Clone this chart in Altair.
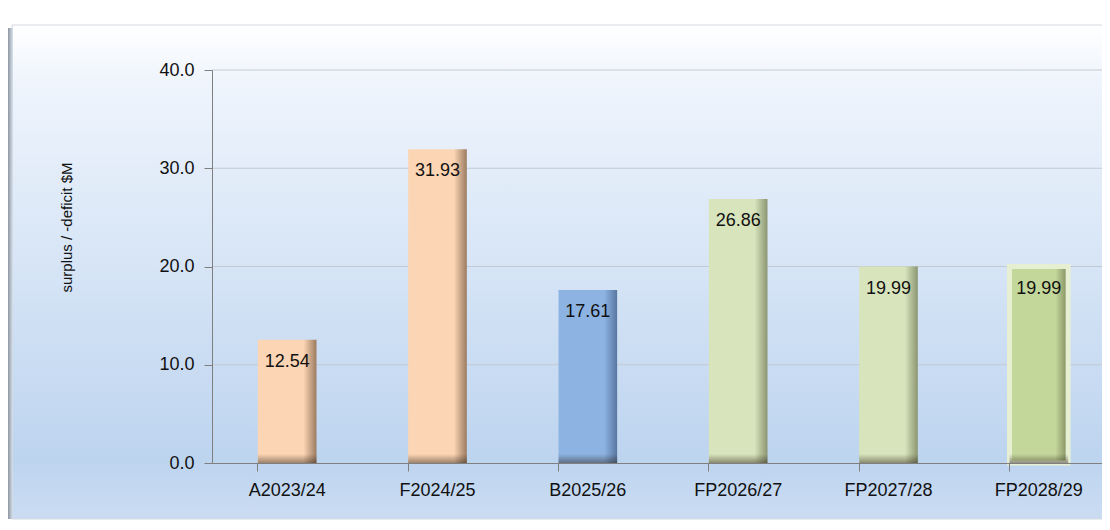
import altair as alt
import pandas as pd

categories = ["A2023/24", "F2024/25", "B2025/26", "FP2026/27", "FP2027/28", "FP2028/29"]
values = [12.54, 31.93, 17.61, 26.86, 19.99, 19.99]
groups = ["peach", "peach", "blue", "green", "green", "green2"]
y_ticks = [0, 10, 20, 30, 40]
grid_vals = [10, 20, 30, 40]

df = pd.DataFrame({"cat": categories, "val": values, "grp": groups})
grid_df = pd.DataFrame({"t": grid_vals})
bg_df = pd.DataFrame({"a": [0]})

FONT = "Liberation Sans"
W, H = 890, 393
PX_PER_UNIT = H / 40.0

def hgrad(base, shade):
    return alt.Gradient(
        gradient="linear", x1=0, x2=1, y1=0, y2=0,
        stops=[alt.GradientStop(color=base, offset=0),
               alt.GradientStop(color=base, offset=0.78),
               alt.GradientStop(color=shade, offset=1)],
    )

palette = {
    "peach": ("#fcd5b4", "#9b7b60", None),
    "blue": ("#8db3e2", "#5876a0", None),
    "green": ("#d8e4bc", "#8b9671", None),
    "green2": ("#c4d79b", "#7e8a5e", "#e7efd3"),
}

x_enc = alt.X(
    "cat:N", sort=categories, title=None,
    scale=alt.Scale(range=[0, 902], paddingInner=0.61, paddingOuter=0.305),
    axis=alt.Axis(labelAngle=0, bandPosition=0, labelFontSize=18, labelFont=FONT,
                  labelColor="#111111", tickSize=8, labelPadding=10,
                  domainColor="#7f7f7f", tickColor="#7f7f7f", grid=False, zindex=2),
)
y_enc = alt.Y(
    "val:Q", title="surplus / -deficit $M",
    scale=alt.Scale(domain=[0, 40], nice=False),
    axis=alt.Axis(values=y_ticks, format=".1f", labelFontSize=18, labelFont=FONT,
                  labelColor="#111111", tickSize=8, labelPadding=10, grid=False,
                  domainColor="#7f7f7f", tickColor="#7f7f7f", zindex=2,
                  titleFont=FONT, titleFontSize=15, titleFontWeight="normal",
                  titleColor="#111111", titleAngle=270, titleX=-146, titleY=157,
                  titleAlign="center", titleBaseline="middle"),
)

bg = alt.Chart(bg_df).mark_rect(
    fill=alt.Gradient(
        gradient="linear", x1=0, x2=0, y1=0, y2=1,
        stops=[alt.GradientStop(color="#ffffff", offset=0),
               alt.GradientStop(color="#eef4fc", offset=0.12),
               alt.GradientStop(color="#bdd4ef", offset=0.88),
               alt.GradientStop(color="#cbdcf2", offset=1)],
    ),
    stroke="#d4d9df", strokeWidth=1,
).encode(x=alt.value(-200), x2=alt.value(893), y=alt.value(-45), y2=alt.value(449))

shadow = alt.Chart(bg_df).mark_rect(
    fill=alt.Gradient(
        gradient="linear", x1=0, x2=1, y1=0, y2=0,
        stops=[alt.GradientStop(color="#8d96a1", offset=0),
               alt.GradientStop(color="#d9e3ee", offset=1)],
    ),
).encode(x=alt.value(-204), x2=alt.value(-199), y=alt.value(-42), y2=alt.value(449))

grid = alt.Chart(grid_df).mark_rule(color="#c3c9d1", strokeWidth=1).encode(
    y=alt.Y("t:Q", scale=alt.Scale(domain=[0, 40], nice=False))
)

layers = [bg, shadow, grid]
for g, (base, shade, stroke) in palette.items():
    kw = {}
    if stroke:
        kw = {"stroke": stroke, "strokeWidth": 5}
    layers.append(
        alt.Chart(df).transform_filter(alt.datum.grp == g)
        .mark_bar(fill=hgrad(base, shade), **kw)
        .encode(x=x_enc, y=y_enc)
    )

# soft shadow at the bottom of each bar
for cat, v in zip(categories, values):
    start = max(0.0, 1 - 9.0 / (v * PX_PER_UNIT))
    layers.append(
        alt.Chart(df).transform_filter(alt.datum.cat == cat)
        .mark_bar(fill=alt.Gradient(
            gradient="linear", x1=0, x2=0, y1=0, y2=1,
            stops=[alt.GradientStop(color="rgba(40,30,20,0)", offset=0),
                   alt.GradientStop(color="rgba(40,30,20,0)", offset=start),
                   alt.GradientStop(color="rgba(40,30,20,0.45)", offset=1)],
        ))
        .encode(x=alt.X("cat:N", sort=categories), y=alt.Y("val:Q"))
    )

text = alt.Chart(df).mark_text(
    baseline="top", dy=13, fontSize=18, font=FONT, color="#111111"
).encode(x=alt.X("cat:N", sort=categories), y=alt.Y("val:Q"), text=alt.Text("val:Q", format=".2f"))
layers.append(text)

chart = alt.layer(*layers).properties(
    width=W, height=H,
    autosize=alt.AutoSizeParams(type="none"),
    padding={"left": 204, "top": 62, "right": 0, "bottom": 58},
).configure_view(stroke=None).configure(background="white")

chart.save("out.html", embed_options={"renderer": "svg", "actions": False})
